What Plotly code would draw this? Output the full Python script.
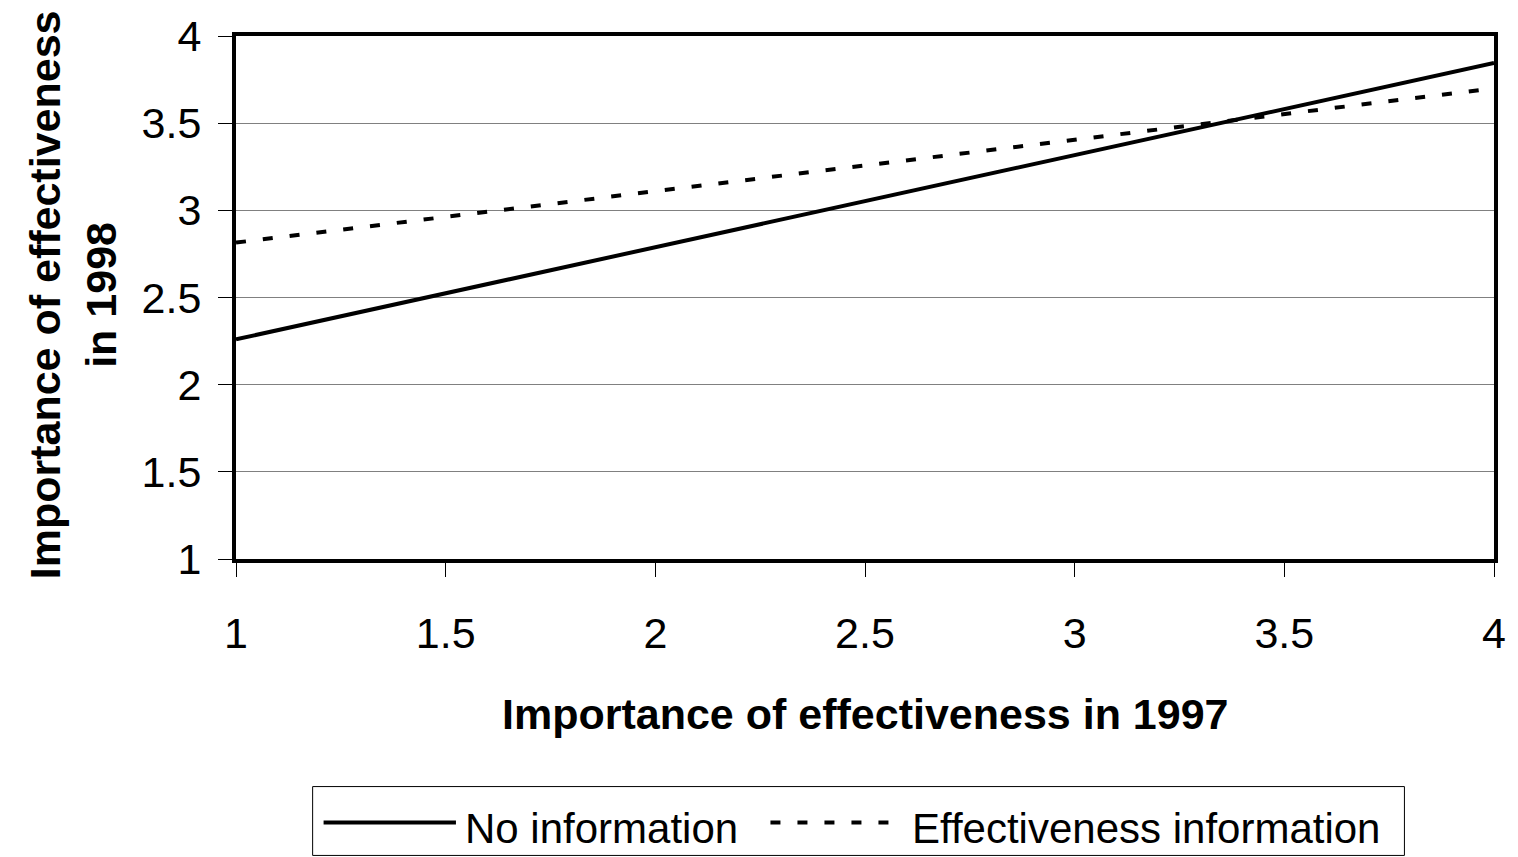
import plotly.graph_objects as go

# Data
x_vals = [1, 4]
no_info = [2.26, 3.845]
eff_info = [2.815, 3.70]
series_names = ["No information", "Effectiveness information"]
x_ticks = [1, 1.5, 2, 2.5, 3, 3.5, 4]
y_ticks = [1, 1.5, 2, 2.5, 3, 3.5, 4]
x_title = "Importance of effectiveness in 1997"
y_title = "Importance of effectiveness<br>in 1998"

W, H = 1518, 857
# plot area in page pixels
PL, PR, PT, PB = 236, 1500, 35, 559
L, T, R, B = PL, PT, W - PR, H - PB
pw, ph = PR - PL, PB - PT

def px_x(p):
    return (p - PL) / pw

def px_y(p):
    return (PB - p) / ph

FONT = "Liberation Sans, Arial, sans-serif"

fig = go.Figure()
fig.add_trace(go.Scatter(x=x_vals, y=no_info, mode="lines", name=series_names[0],
                         line=dict(color="black", width=4), showlegend=False))
fig.add_trace(go.Scatter(x=x_vals, y=eff_info, mode="lines", name=series_names[1],
                         line=dict(color="black", width=4, dash="10px,17px"), showlegend=False))

fig.update_layout(
    width=W, height=H,
    margin=dict(l=L, r=R, t=T, b=B),
    paper_bgcolor="white", plot_bgcolor="white",
    font=dict(family=FONT, color="black", size=40),
    showlegend=False,
)
fig.update_xaxes(
    range=[1, 4], tickvals=x_ticks, ticktext=[f"{v:g}" for v in x_ticks],
    ticks="outside", ticklen=14, tickwidth=1, tickcolor="black",
    showgrid=False, zeroline=False,
    showline=True, linecolor="black", linewidth=4, mirror=True,
    tickfont=dict(size=43, family=FONT), ticklabelstandoff=19,
)
fig.update_yaxes(
    range=[1, 4], tickvals=y_ticks, ticktext=[f"{v:g}" for v in y_ticks],
    ticks="outside", ticklen=14, tickwidth=1, tickcolor="black",
    showgrid=True, gridcolor="#808080", gridwidth=1, zeroline=False,
    showline=True, linecolor="black", linewidth=4, mirror=True,
    tickfont=dict(size=43, family=FONT), ticklabelstandoff=8,
)

# Axis titles
fig.add_annotation(text=f"<b>{x_title}</b>", xref="paper", yref="paper",
                   x=px_x((500 + 1237) / 2), y=px_y(714), showarrow=False,
                   font=dict(size=43, family=FONT), xanchor="center", yanchor="middle")
fig.add_annotation(text=f"<b>{y_title}</b>", xref="paper", yref="paper",
                   x=px_x(72), y=px_y(294), showarrow=False, textangle=-90,
                   font=dict(size=43, family=FONT), xanchor="center", yanchor="middle")

# Legend (drawn manually to match the long line samples)
fig.add_shape(type="rect", xref="paper", yref="paper",
              x0=px_x(313), x1=px_x(1410), y0=px_y(787), y1=px_y(856),
              line=dict(color="black", width=1), fillcolor="white")
fig.add_shape(type="line", xref="paper", yref="paper",
              x0=px_x(324), x1=px_x(457), y0=px_y(823), y1=px_y(823),
              line=dict(color="black", width=4))
fig.add_shape(type="line", xref="paper", yref="paper",
              x0=px_x(773), x1=px_x(907), y0=px_y(823), y1=px_y(823),
              line=dict(color="black", width=4, dash="10px,17px"))
fig.add_annotation(text=series_names[0], xref="paper", yref="paper",
                   x=px_x(464), y=px_y(829), showarrow=False,
                   font=dict(size=42, family=FONT), xanchor="left", yanchor="middle")
fig.add_annotation(text=series_names[1], xref="paper", yref="paper",
                   x=px_x(913), y=px_y(829), showarrow=False,
                   font=dict(size=42, family=FONT), xanchor="left", yanchor="middle")

fig.write_html(
    "out.html",
    config={"displayModeBar": False},
    post_script="document.body.style.margin='0';document.body.style.overflow='hidden';",
)
